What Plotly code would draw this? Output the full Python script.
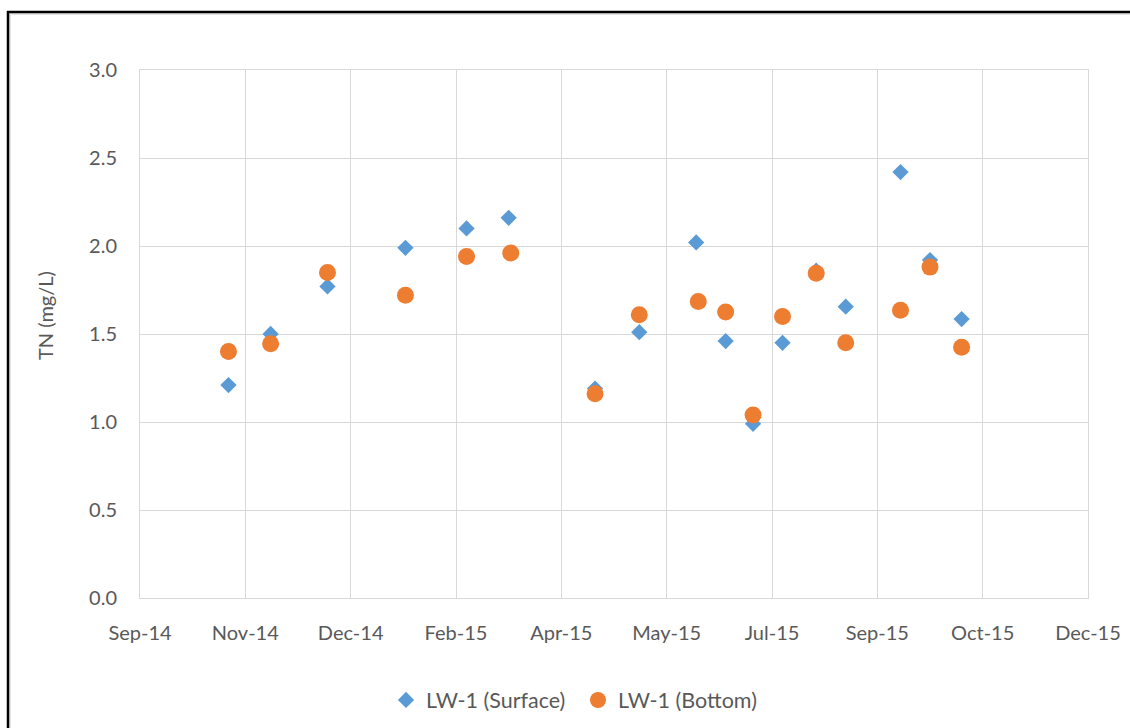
import plotly.graph_objects as go

# Sample dates
surface_dates = ["2014-10-30", "2014-11-19", "2014-12-16", "2015-01-22", "2015-02-20",
                 "2015-03-12", "2015-04-22", "2015-05-13", "2015-06-09", "2015-06-23",
                 "2015-07-06", "2015-07-20", "2015-08-05", "2015-08-19", "2015-09-14",
                 "2015-09-28", "2015-10-13"]
surface_tn = [1.21, 1.50, 1.77, 1.99, 2.10, 2.16, 1.19, 1.51, 2.02, 1.46,
              0.99, 1.45, 1.86, 1.655, 2.42, 1.92, 1.585]

bottom_dates = ["2014-10-30", "2014-11-19", "2014-12-16", "2015-01-22", "2015-02-20",
                "2015-03-13", "2015-04-22", "2015-05-13", "2015-06-10", "2015-06-23",
                "2015-07-06", "2015-07-20", "2015-08-05", "2015-08-19", "2015-09-14",
                "2015-09-28", "2015-10-13"]
bottom_tn = [1.40, 1.445, 1.85, 1.72, 1.94, 1.96, 1.16, 1.61, 1.685, 1.625,
             1.04, 1.60, 1.845, 1.45, 1.635, 1.88, 1.425]

series_names = ["LW-1 (Surface)", "LW-1 (Bottom)"]
y_title = "TN (mg/L)"

BLUE = "#5B9BD5"
ORANGE = "#ED7D31"
GRID = "#D9D9D9"
TEXT = "#595959"
FONT = "Lato"

fig = go.Figure()
fig.add_trace(go.Scatter(x=surface_dates, y=surface_tn, mode="markers", name=series_names[0],
                         marker=dict(symbol="diamond", size=12.5, color=BLUE)))
fig.add_trace(go.Scatter(x=bottom_dates, y=bottom_tn, mode="markers", name=series_names[1],
                         marker=dict(symbol="circle", size=17, color=ORANGE)))

L, R, T, B = 140, 42, 70, 130
W, H = 1130, 728
pw, ph = W - L - R, H - T - B


def px_x(x):
    return (x - L) / pw


def px_y(y):
    return (H - B - y) / ph


frame_shapes = [
    # faint inner shadow of the chart frame
    dict(type="line", xref="paper", yref="paper", x0=px_x(10), x1=px_x(W), y0=px_y(14), y1=px_y(14),
         line=dict(color="#DDDDDD", width=1.5), layer="above"),
    dict(type="line", xref="paper", yref="paper", x0=px_x(10), x1=px_x(10), y0=px_y(14), y1=px_y(H),
         line=dict(color="#DDDDDD", width=1.5), layer="above"),
    # black chart frame (top and left edges visible)
    dict(type="line", xref="paper", yref="paper", x0=px_x(7), x1=px_x(W), y0=px_y(12), y1=px_y(12),
         line=dict(color="black", width=2.5), layer="above"),
    dict(type="line", xref="paper", yref="paper", x0=px_x(8), x1=px_x(8), y0=px_y(11), y1=px_y(H),
         line=dict(color="black", width=2.5), layer="above"),
]

fig.update_layout(
    width=W, height=H,
    margin=dict(l=L, r=R, t=T, b=B, autoexpand=False),
    paper_bgcolor="white", plot_bgcolor="white",
    font=dict(family=FONT, size=20, color=TEXT),
    showlegend=True,
    legend=dict(orientation="h", x=px_x(578), xanchor="center",
                y=px_y(700), yanchor="middle",
                font=dict(family=FONT, size=21.5, color=TEXT), itemwidth=30,
                entrywidth=147, entrywidthmode="pixels"),
    xaxis=dict(type="date", range=["2014-09-18", "2015-12-12"],
               tick0="2014-09-18", dtick=50 * 86400000, tickformat="%b-%y",
               showgrid=True, gridcolor=GRID, gridwidth=1,
               showline=True, linecolor=GRID, linewidth=1, mirror=True,
               ticks="", ticklabelstandoff=17, automargin=False,
               tickfont=dict(family=FONT, size=20, color=TEXT)),
    yaxis=dict(range=[0, 3.0], dtick=0.5, tick0=0, tickformat=".1f",
               showgrid=True, gridcolor=GRID, gridwidth=1,
               zeroline=False,
               showline=True, linecolor=GRID, linewidth=1, mirror=True,
               ticks="", ticklabelstandoff=18, automargin=False,
               tickfont=dict(family=FONT, size=20, color=TEXT)),
    annotations=[dict(text=y_title, textangle=-90, xref="paper", yref="paper",
                      x=px_x(45), y=px_y(316), showarrow=False,
                      xanchor="center", yanchor="middle",
                      font=dict(family=FONT, size=20, color=TEXT))],
    shapes=frame_shapes,
)

fig.write_html("out.html", config={"displayModeBar": False},
               post_script="document.body.style.margin='0';document.body.style.overflow='hidden';")
